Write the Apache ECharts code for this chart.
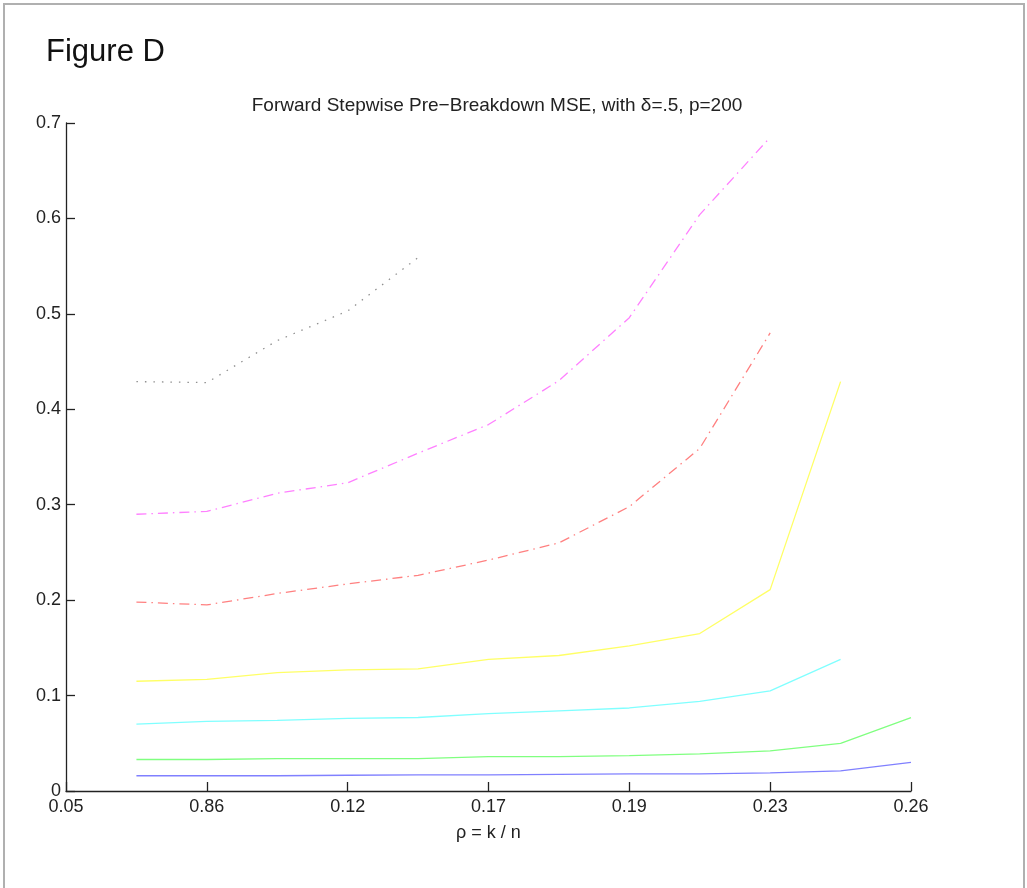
<!DOCTYPE html>
<html>
<head>
<meta charset="utf-8">
<script src="https://cdn.jsdelivr.net/npm/echarts@6/dist/echarts.min.js"></script>
<style>
html,body{margin:0;padding:0;background:#fff;}
#chart{width:1027px;height:888px;}
</style>
</head>
<body>
<div id="chart"></div>
<script>
// x positions (index units; tick labels every 2 units)
const xPositions = [1, 2, 3, 4, 5, 6, 7, 8, 9, 10, 11, 12];
const xTickLabels = ["0.05", "0.86", "0.12", "0.17", "0.19", "0.23", "0.26"];
const yTickLabels = ["0", "0.1", "0.2", "0.3", "0.4", "0.5", "0.6", "0.7"];

const blueSeries    = [0.016, 0.016, 0.016, 0.0165, 0.017, 0.017, 0.0175, 0.018, 0.018, 0.019, 0.021, 0.030];
const greenSeries   = [0.033, 0.033, 0.034, 0.034, 0.034, 0.036, 0.036, 0.037, 0.039, 0.042, 0.050, 0.077];
const cyanSeries    = [0.070, 0.073, 0.074, 0.076, 0.077, 0.081, 0.084, 0.087, 0.094, 0.105, 0.138];
const yellowSeries  = [0.115, 0.117, 0.124, 0.127, 0.128, 0.138, 0.142, 0.152, 0.165, 0.211, 0.429];
const redSeries     = [0.198, 0.195, 0.207, 0.217, 0.226, 0.242, 0.260, 0.298, 0.359, 0.480];
const magentaSeries = [0.290, 0.293, 0.312, 0.323, 0.354, 0.384, 0.430, 0.496, 0.604, 0.685];
const graySeries    = [0.429, 0.428, 0.472, 0.503, 0.559];

function pairs(vals) { return vals.map((v, i) => [xPositions[i], v]); }

const FONT = 'Liberation Sans, Arial, sans-serif';
const dashDot = [10, 5, 1.5, 5];

function mk(name, vals, color, type) {
  return {
    name: name, type: 'line', data: pairs(vals), symbol: 'none', silent: true,
    lineStyle: { color: color, width: 1.3, type: type || 'solid', cap: 'butt' }
  };
}

const chart = echarts.init(document.getElementById('chart'), null, { renderer: 'canvas' });
chart.setOption({
  animation: false,
  backgroundColor: '#ffffff',
  title: [{
    text: 'Figure D', left: 41, top: 32,
    textStyle: { fontFamily: FONT, fontSize: 31, fontWeight: 'normal', color: '#111' }
  }, {
    text: 'Forward Stepwise Pre\u2212Breakdown MSE, with \u03b4=.5, p=200',
    left: 492, top: 91, textAlign: 'center',
    textStyle: { fontFamily: FONT, fontSize: 19, fontWeight: 'normal', color: '#222' }
  }],
  graphic: [{
    type: 'rect', shape: { x: 4, y: 4, width: 1020, height: 900 },
    style: { fill: 'none', stroke: '#b0b0b0', lineWidth: 2 }, silent: true
  }],
  grid: { left: 66, right: 116, top: 123, bottom: 97 },
  xAxis: {
    type: 'value', min: 0, max: 12, interval: 2,
    name: '\u03c1 = k / n', nameLocation: 'middle', nameGap: 33,
    nameTextStyle: { fontFamily: FONT, fontSize: 18, color: '#222' },
    axisLine: { onZero: false, lineStyle: { color: '#222', width: 1.3 } },
    axisTick: { inside: true, length: 9, lineStyle: { color: '#222', width: 1.3 } },
    axisLabel: {
      fontFamily: FONT, fontSize: 18, color: '#222', margin: 7,
      formatter: v => xTickLabels[Math.round(v / 2)]
    },
    splitLine: { show: false }
  },
  yAxis: {
    type: 'value', min: 0, max: 0.7, interval: 0.1,
    axisLine: { show: true, lineStyle: { color: '#222', width: 1.3 } },
    axisTick: { show: true, inside: true, length: 9, lineStyle: { color: '#222', width: 1.3 } },
    axisLabel: {
      fontFamily: FONT, fontSize: 18, color: '#222', margin: 5,
      formatter: v => yTickLabels[Math.round(v * 10)]
    },
    splitLine: { show: false }
  },
  series: [
    mk('blue', blueSeries, '#8080ff'),
    mk('green', greenSeries, '#80ff80'),
    mk('cyan', cyanSeries, '#80ffff'),
    mk('yellow', yellowSeries, '#ffff66'),
    mk('red', redSeries, '#ff8080', dashDot),
    mk('magenta', magentaSeries, '#ff80ff', dashDot),
    mk('gray', graySeries, '#909090', [1.5, 7])
  ]
});
</script>
</body>
</html>
